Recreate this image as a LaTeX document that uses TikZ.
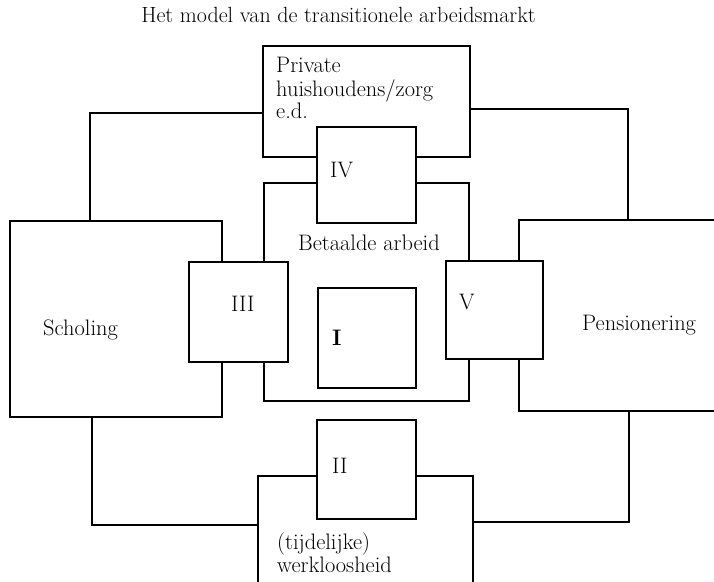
\documentclass[tikz,border=0pt]{standalone}
\usepackage{fontspec}
\begin{document}
\begin{tikzpicture}[x=1pt,y=-1pt,
  box/.style={draw=black, line width=2pt, fill=white, rectangle, inner sep=0pt, line join=miter},
  lbl/.style={anchor=base west, inner sep=0pt, font=\fontsize{22.4}{26}\selectfont},
  conn/.style={draw=black, line width=2pt, line join=miter}]
\useasboundingbox (0,0) rectangle (714,581);
\clip (0,0) rectangle (714,581);
\fill[white] (0,0) rectangle (714,581);

% title
\node[anchor=base, inner sep=0pt, font=\fontsize{22}{26}\selectfont] (title) at (338.5,22) {Het model van de transitionele arbeidsmarkt};

% named corner points of connectors
\coordinate (tl) at (90,113);
\coordinate (tr) at (628,109);
\coordinate (bl) at (92,525);
\coordinate (br) at (629,522);

% big boxes
\node[box, minimum width=212pt, minimum height=196pt] (sch) at (116,319) {};
\node[box, minimum width=212pt, minimum height=191pt] (pen) at (625,315.5) {};
\node[box, minimum width=207pt, minimum height=111pt] (priv) at (366.5,101.5) {};
\node[box, minimum width=205pt, minimum height=218pt] (arb) at (366.5,292) {};
\node[box, minimum width=215pt, minimum height=164pt] (werk) at (365.5,558) {};

% connectors
\draw[conn] (tl |- sch.north) -- (tl) -- (tl -| priv.west);
\draw[conn] (tr -| priv.east) -- (tr) -- (tr |- pen.north);
\draw[conn] (bl |- sch.south) -- (bl) -- (bl -| werk.west);
\draw[conn] (br -| werk.east) -- (br) -- (br |- pen.south);

% small boxes
\node[box, minimum width=98pt, minimum height=100pt] (b1) at (367,338) {};
\node[box, minimum width=99pt, minimum height=100pt] (b3) at (238.5,312) {};
\node[box, minimum width=97pt, minimum height=98pt] (b5) at (494.5,310) {};
\node[box, minimum width=99pt, minimum height=96pt] (b4) at (366.5,175) {};
\node[box, minimum width=99pt, minimum height=99pt] (b2) at (366.5,469.5) {};

% labels
\node[lbl] (tpriv1) at (276,72) {Private};
\node[lbl] (tpriv2) at (276,96) {huishoudens/zorg};
\node[lbl] (tpriv3) at (276,118) {e.d.};
\node[lbl] (tb4) at (330,177) {IV};
\node[lbl] (tarb) at (298,250) {Betaalde arbeid};
\node[lbl] (tb1) at (332,345) {\bfseries I};
\node[lbl] (tb3) at (231,311) {III};
\node[lbl] (tsch) at (43,335) {Scholing};
\node[lbl] (tb5) at (459,309) {V};
\node[lbl] (tpen) at (582,330) {Pensionering};
\node[lbl] (tb2) at (332,473) {II};
\node[lbl] (twerk1) at (277,549) {(tijdelijke)};
\node[lbl] (twerk2) at (277,572) {werkloosheid};
\end{tikzpicture}
\end{document}
